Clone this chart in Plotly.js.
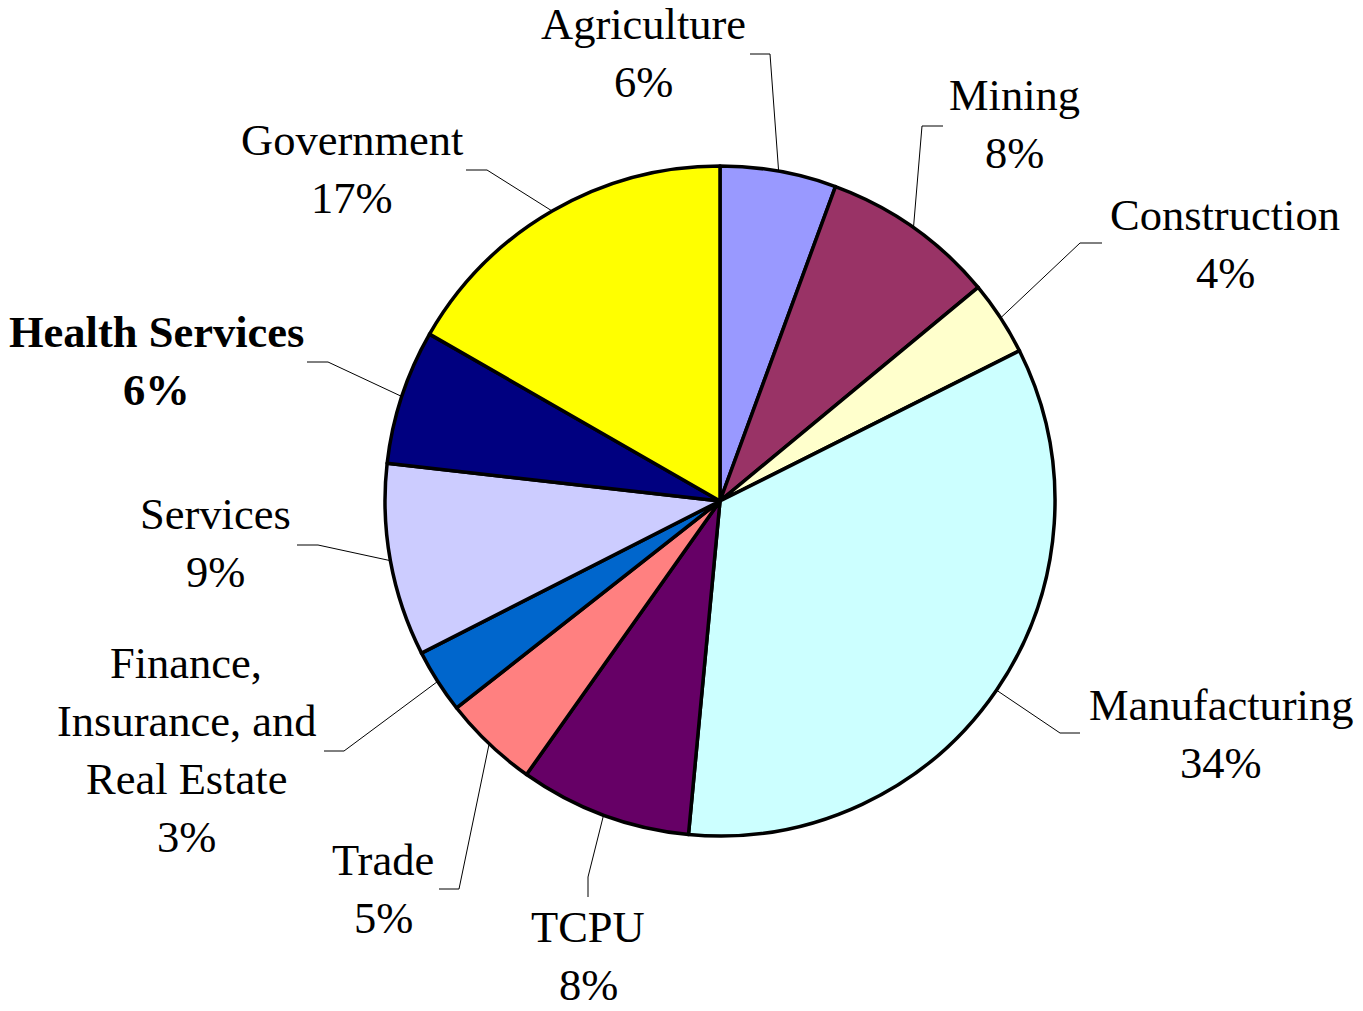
<!DOCTYPE html>
<html><head><meta charset="utf-8">
<script src="https://cdn.plot.ly/plotly-3.0.1.min.js"></script>
<style>html,body{margin:0;padding:0;background:#fff}#chart{width:1363px;height:1011px}</style>
</head><body><div id="chart"></div>
<script>
// ---- data ----
const categories = ['Agriculture','Mining','Construction','Manufacturing','TCPU','Trade','Finance,<br>Insurance, and<br>Real Estate','Services','Health Services','Government'];
const values = [5.6, 8.4, 3.6, 33.9, 8.3, 4.6, 3.1, 9.3, 6.5, 16.7];
const pctLabels = ['6%','8%','4%','34%','8%','5%','3%','9%','6%','17%'];

// ---- styles / layout ----
const colors = ['#9999FF','#993366','#FFFFCC','#CCFFFF','#660066','#FF8080','#0066CC','#CCCCFF','#000080','#FFFF00'];
const boldLabel = [false,false,false,false,false,false,false,false,true,false];
const labelX = [643,1014,1225,1221,588,383,186,215,156,352];
const labelY = [39,110,230,720,942,875,678,529,347,155];
const elbowX = [770,922,1080,1060,588,459,344,318,328,487];
const elbowY = [54,126,243,733,877,889,751,545,362,170];
const endX = [750,943,1102,1080,588,439,324,297,307,466];
const endY = [54,126,243,733,897,889,751,545,362,170];

const W = 1363, H = 1011, CX = 720, CY = 501, R = 335;
const FS = 44.5, GAP = 58;
const px = x => x / W, py = y => 1 - y / H;

const total = values.reduce((a,b)=>a+b,0);
let cum = 0;
const shapes = [], annotations = [];
values.forEach((v,i)=>{
  const mid = (cum + v/2) / total * 2 * Math.PI; cum += v;
  const sx = CX + R * Math.sin(mid), sy = CY - R * Math.cos(mid);
  shapes.push({type:'path', xref:'paper', yref:'paper',
    path:`M${px(sx)},${py(sy)} L${px(elbowX[i])},${py(elbowY[i])} L${px(endX[i])},${py(endY[i])}`,
    line:{color:'#000', width:1}});
  const lines = categories[i].split('<br>').concat([pctLabels[i]]);
  lines.forEach((t,j)=>{
    const base = labelY[i] + j*GAP;
    annotations.push({xref:'paper', yref:'paper', x:px(labelX[i]), y:py(base - 0.3375*FS),
      xanchor:'center', yanchor:'middle', showarrow:false,
      text: boldLabel[i] ? '<b>'+t+'</b>' : t,
      font:{family:'Liberation Serif, Times New Roman, serif', size:FS, color:'#000'}});
  });
});

const trace = {
  type:'pie', labels:categories.map(c=>c.replace(/<br>/g,' ')), values:values,
  sort:false, direction:'clockwise', rotation:0,
  textinfo:'none', hoverinfo:'label+percent',
  marker:{colors:colors, line:{color:'#000', width:3.5}},
  domain:{x:[px(CX-R), px(CX+R)], y:[py(CY+R), py(CY-R)]},
  showlegend:false
};

Plotly.newPlot('chart',[trace],{
  width:W, height:H, margin:{l:0,r:0,t:0,b:0},
  paper_bgcolor:'#fff', plot_bgcolor:'#fff', showlegend:false,
  shapes:shapes, annotations:annotations
},{displayModeBar:false, staticPlot:true});
</script></body></html>
